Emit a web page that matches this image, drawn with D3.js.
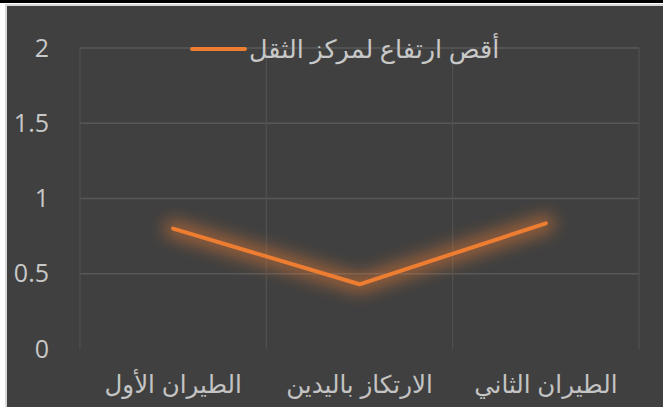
<!DOCTYPE html>
<html><head><meta charset="utf-8">
<script src="https://cdn.jsdelivr.net/npm/d3@7/dist/d3.min.js"></script>
<style>html,body{margin:0;padding:0;background:#fff;overflow:hidden}</style>
</head><body>
<svg id="c" width="663" height="407"></svg>
<script>
const categories = ["الطيران الأول", "الارتكاز باليدين", "الطيران الثاني"];
const values = [0.80, 0.43, 0.835];
const yTicks = [0, 0.5, 1, 1.5, 2];
const seriesName = "أقص ارتفاع لمركز الثقل";

const W = 663, H = 407;
const svg = d3.select("#c");
const m = {left: 80, right: 24, top: 48, bottom: 58};

// frame
svg.append("rect").attr("x",0).attr("y",0).attr("width",W).attr("height",3).attr("fill","#000");
svg.append("rect").attr("x",5).attr("y",4).attr("width",W-4).attr("height",H).attr("fill","#d9d9d9");
svg.append("rect").attr("x",7).attr("y",6).attr("width",W-7).attr("height",H-6).attr("fill","#404040");

const x = d3.scaleBand().domain(categories).range([m.left, W - m.right]).padding(0);
const y = d3.scaleLinear().domain([0, 2]).range([H - m.bottom, m.top]);

const g = svg.append("g");
g.selectAll("line.h").data(yTicks.filter(d => d > 0)).join("line")
  .attr("x1", m.left).attr("x2", W - m.right)
  .attr("y1", d => y(d)).attr("y2", d => y(d))
  .attr("stroke", "#585858").attr("stroke-width", 1.3);
const bounds = categories.map(c => x(c)).concat([x(categories[categories.length-1]) + x.bandwidth()]);
g.selectAll("line.v").data(bounds).join("line")
  .attr("x1", d => d).attr("x2", d => d)
  .attr("y1", y(2)).attr("y2", y(0))
  .attr("stroke", "#505050").attr("stroke-width", 1.3);

svg.append("g").selectAll("text").data(yTicks).join("text")
  .attr("x", 49).attr("y", d => y(d))
  .attr("dy", "0.34em")
  .attr("text-anchor", "end")
  .attr("fill", "#c8c8c8")
  .attr("font-family", "'Open Sans', Carlito, sans-serif")
  .attr("font-size", 25)
  .text(d => d);

svg.append("g").selectAll("text").data(categories).join("text")
  .attr("x", d => x(d) + x.bandwidth()/2).attr("y", 393)
  .attr("text-anchor", "middle")
  .attr("direction", "rtl")
  .attr("fill", "#c4c4c4")
  .attr("font-family", "Arial, 'Liberation Sans', 'DejaVu Sans', sans-serif")
  .attr("font-size", 24.5)
  .text(d => d);

const defs = svg.append("defs");
const f = defs.append("filter").attr("id","glow").attr("x","-20%").attr("y","-60%").attr("width","140%").attr("height","220%");
f.append("feGaussianBlur").attr("in","SourceGraphic").attr("stdDeviation",8);

const line = d3.line().x((d,i) => x(categories[i]) + x.bandwidth()/2).y(d => y(d));
svg.append("path").datum(values).attr("d", line)
  .attr("fill","none").attr("stroke","#ED7D31").attr("stroke-width",18)
  .attr("stroke-opacity",0.5).attr("stroke-linejoin","round").attr("stroke-linecap","round")
  .attr("filter","url(#glow)");
svg.append("path").datum(values).attr("d", line)
  .attr("fill","none").attr("stroke","#ED7D31").attr("stroke-width",4)
  .attr("stroke-linejoin","round").attr("stroke-linecap","round");

const lg = svg.append("g");
lg.append("line").attr("x1",192).attr("x2",245).attr("y1",49).attr("y2",49)
  .attr("stroke","#ED7D31").attr("stroke-width",4).attr("stroke-linecap","round");
lg.append("text").attr("x",249).attr("y",58)
  .attr("text-anchor","start")
  .attr("fill","#c8c8c8")
  .attr("font-family","'Noto Sans', 'DejaVu Sans', sans-serif")
  .attr("font-size",25.5)
  .text(seriesName);
</script>
</body></html>
